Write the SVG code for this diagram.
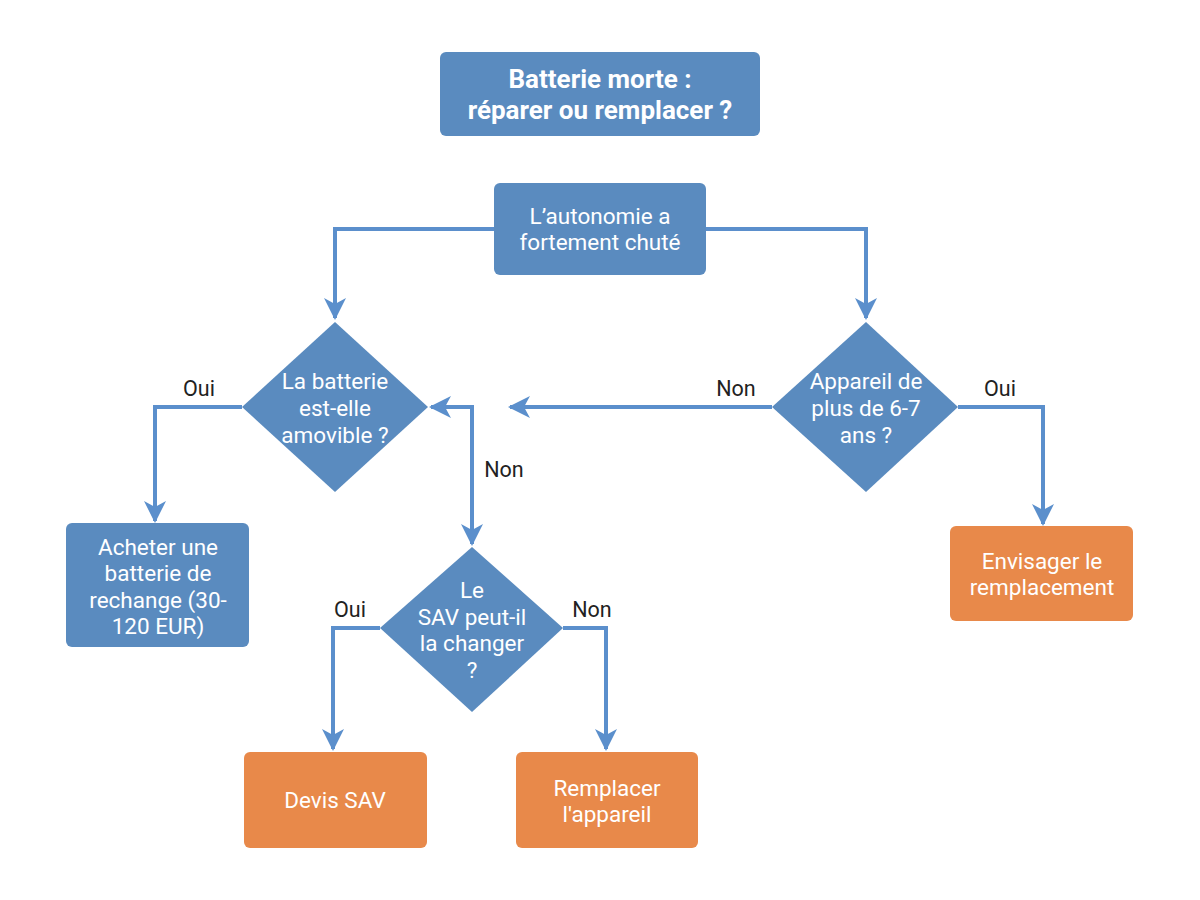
<svg xmlns="http://www.w3.org/2000/svg" width="1200" height="900" viewBox="0 0 1200 900">
<style>
.blue{fill:#5a8bbf}
.orange{fill:#e8894a}
.t{font-family:Roboto,"Liberation Sans",sans-serif;font-size:22.5px;fill:#ffffff;text-anchor:middle}
.tb{font-family:Roboto,"Liberation Sans",sans-serif;font-size:26px;font-weight:bold;fill:#ffffff;text-anchor:middle}
.lab{font-family:Roboto,"Liberation Sans",sans-serif;font-size:21.5px;fill:#222222;text-anchor:middle}
.c{fill:none;stroke:#5b8fcc;stroke-width:4;stroke-linejoin:miter}
</style>
<defs>
<marker id="ah" markerUnits="userSpaceOnUse" markerWidth="24" markerHeight="24" refX="20" refY="11" orient="auto-start-reverse" viewBox="0 0 24 22">
<path d="M0,0 L22,11 L0,22 L6,11 z" fill="#5b8fcc"/>
</marker>
</defs>
<rect width="1200" height="900" fill="#ffffff"/>
<g id="connectors">
<path class="c" d="M494,229 H335 V318" marker-end="url(#ah)"/>
<path class="c" d="M706,229 H866 V318" marker-end="url(#ah)"/>
<path class="c" d="M242,407 H155 V521" marker-end="url(#ah)"/>
<path class="c" d="M958,407 H1043 V524" marker-end="url(#ah)"/>
<path class="c" d="M772,407 H510" marker-end="url(#ah)"/>
<path class="c" d="M431,407 H472 V544" marker-start="url(#ah)" marker-end="url(#ah)"/>
<path class="c" d="M380,628 H333 V749" marker-end="url(#ah)"/>
<path class="c" d="M563,628 H606 V749" marker-end="url(#ah)"/>
<text class="lab" x="199" y="396">Oui</text>
<text class="lab" x="736" y="396">Non</text>
<text class="lab" x="1000" y="396">Oui</text>
<text class="lab" x="504" y="477">Non</text>
<text class="lab" x="350" y="617">Oui</text>
<text class="lab" x="592" y="617">Non</text>
</g>
<g id="title">
<rect class="blue" x="440" y="52" width="320" height="84" rx="6"/>
<text class="tb" x="600" y="88">Batterie morte :</text>
<text class="tb" x="600" y="119">réparer ou remplacer ?</text>
</g>
<g id="start">
<rect class="blue" x="494" y="183" width="212" height="92" rx="6"/>
<text class="t" x="600" y="224">L’autonomie a</text>
<text class="t" x="600" y="250">fortement chuté</text>
</g>
<g id="d1">
<polygon class="blue" points="335,322 428,407 335,492 242,407"/>
<text class="t" x="335" y="389">La batterie</text>
<text class="t" x="335" y="416">est-elle</text>
<text class="t" x="335" y="443">amovible ?</text>
</g>
<g id="d2">
<polygon class="blue" points="866,322 958,407 866,492 772,407"/>
<text class="t" x="866" y="389">Appareil de</text>
<text class="t" x="866" y="416">plus de 6-7</text>
<text class="t" x="866" y="443">ans ?</text>
</g>
<g id="acheter">
<rect class="blue" x="66" y="523" width="183" height="124" rx="6"/>
<text class="t" x="158" y="555">Acheter une</text>
<text class="t" x="158" y="581">batterie de</text>
<text class="t" x="158" y="608">rechange (30-</text>
<text class="t" x="158" y="634">120 EUR)</text>
</g>
<g id="envisager">
<rect class="orange" x="950" y="526" width="183" height="95" rx="6"/>
<text class="t" x="1042" y="569">Envisager le</text>
<text class="t" x="1042" y="595">remplacement</text>
</g>
<g id="d3">
<polygon class="blue" points="472,547 563,628 472,712 380,628"/>
<text class="t" x="472" y="598">Le</text>
<text class="t" x="472" y="625">SAV peut-il</text>
<text class="t" x="472" y="651">la changer</text>
<text class="t" x="472" y="678">?</text>
</g>
<g id="devis">
<rect class="orange" x="244" y="752" width="183" height="96" rx="6"/>
<text class="t" x="335" y="808">Devis SAV</text>
</g>
<g id="remplacer">
<rect class="orange" x="516" y="752" width="182" height="96" rx="6"/>
<text class="t" x="607" y="796">Remplacer</text>
<text class="t" x="607" y="822">l'appareil</text>
</g>
</svg>
